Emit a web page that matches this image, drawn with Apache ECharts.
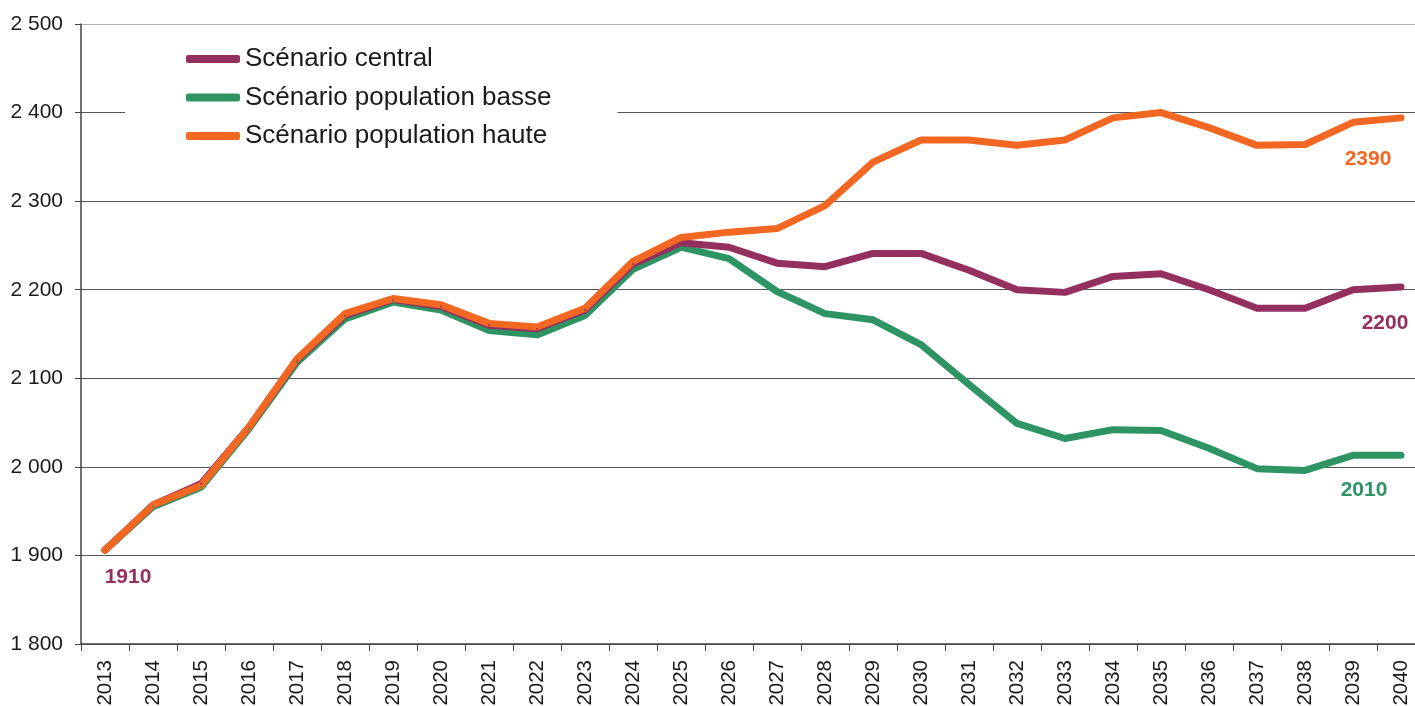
<!DOCTYPE html>
<html>
<head>
<meta charset="utf-8">
<script src="https://cdn.jsdelivr.net/npm/echarts@6/dist/echarts.min.js"></script>
<style>
  html, body { margin: 0; padding: 0; background: #fff; }
  #chart { width: 1415px; height: 706px; }
</style>
</head>
<body>
<div id="chart"></div>
<script>
var years = ['2013', '2014', '2015', '2016', '2017', '2018', '2019', '2020', '2021', '2022',
  '2023', '2024', '2025', '2026', '2027', '2028', '2029', '2030', '2031', '2032',
  '2033', '2034', '2035', '2036', '2037', '2038', '2039', '2040'];

var central = [1906, 1957, 1981, 2045, 2121, 2171, 2189, 2181, 2160, 2156,
  2177, 2229, 2253, 2248, 2230, 2226, 2241, 2241, 2222, 2200,
  2197, 2215, 2218, 2200, 2179, 2179, 2200, 2203];

var basse = [1906, 1955, 1977, 2043, 2118, 2167, 2186, 2177, 2154, 2149,
  2171, 2223, 2248, 2235, 2198, 2173, 2166, 2138, 2093, 2049,
  2032, 2042, 2041, 2021, 1998, 1996, 2013, 2013];

var haute = [1906, 1957, 1979, 2045, 2122, 2173, 2190, 2183, 2162, 2158,
  2179, 2232, 2259, 2265, 2269, 2295, 2344, 2369, 2369, 2363,
  2369, 2394, 2400, 2383, 2363, 2364, 2389, 2394];

var seriesNames = ['Scénario central', 'Scénario population basse', 'Scénario population haute'];
var startLabel = '1910';
var endLabels = ['2200', '2010', '2390'];

var colors = { central: '#93305f', basse: '#2e9463', haute: '#f26722' };
var font = 'Liberation Sans, Arial, sans-serif';

// attach text labels to some points of a series
function labelled(values, marks) {
  return values.map(function (v, i) {
    var m = marks[i];
    if (!m) return v;
    return {
      value: v,
      label: {
        show: true,
        formatter: m.text,
        position: 'inside',
        offset: m.offset,
        color: m.color,
        fontFamily: font,
        fontWeight: 'bold',
        fontSize: 21
      }
    };
  });
}

function lineSeries(name, data, color) {
  return {
    name: name,
    type: 'line',
    data: data,
    symbol: 'circle',
    symbolSize: 2,
    showSymbol: true,
    itemStyle: { color: color },
    lineStyle: { color: color, width: 7, cap: 'round', join: 'round' },
    emphasis: { disabled: true }
  };
}

var last = years.length - 1;
var centralMarks = {};
centralMarks[0] = { text: startLabel, offset: [23, 27], color: colors.central };
centralMarks[last] = { text: endLabels[0], offset: [-16, 36], color: colors.central };
var basseMarks = {};
basseMarks[last] = { text: endLabels[1], offset: [-37, 35], color: colors.basse };
var hauteMarks = {};
hauteMarks[last] = { text: endLabels[2], offset: [-33, 41], color: colors.haute };

var chart = echarts.init(document.getElementById('chart'));
var option = {
  animation: false,
  backgroundColor: '#fff',
  // plot runs a little past the right edge of the picture
  grid: { left: 81, width: 1344, top: 24, bottom: 62, outerBoundsMode: 'none' },
  legend: {
    data: seriesNames,
    orient: 'vertical',
    left: 125,
    top: 34,
    padding: [10, 66, 10, 61],
    backgroundColor: '#fff',
    icon: 'roundRect',
    itemWidth: 54,
    itemHeight: 8,
    itemGap: 8.5,
    textStyle: { fontFamily: font, fontSize: 26, color: '#1a1a1a', lineHeight: 30 }
  },
  xAxis: {
    type: 'category',
    data: years,
    boundaryGap: true,
    axisLine: { lineStyle: { color: '#444', width: 1.5 } },
    axisTick: { show: true, length: 7, interval: 0, lineStyle: { color: '#444' } },
    axisLabel: { rotate: 90, interval: 0, margin: 16, fontFamily: font, fontSize: 20.5, color: '#1a1a1a' }
  },
  yAxis: {
    type: 'value',
    min: 1800,
    max: 2500,
    interval: 100,
    axisLine: { show: true, lineStyle: { color: '#444', width: 1.5 } },
    axisTick: { show: true, length: 6, lineStyle: { color: '#444' } },
    axisLabel: {
      margin: 18,
      fontFamily: font,
      fontSize: 21,
      color: '#1a1a1a',
      formatter: function (v) { return String(v).replace(/\B(?=(\d{3})+(?!\d))/g, ' '); }
    },
    splitLine: {
      lineStyle: {
        color: ['#555', '#555', '#555', '#555', '#555', '#555', '#555', '#b0b0b0'],
        width: 1.2
      }
    }
  },
  series: [
    lineSeries(seriesNames[1], labelled(basse, basseMarks), colors.basse),
    lineSeries(seriesNames[0], labelled(central, centralMarks), colors.central),
    lineSeries(seriesNames[2], labelled(haute, hauteMarks), colors.haute)
  ]
};
chart.setOption(option);
</script>
</body>
</html>
